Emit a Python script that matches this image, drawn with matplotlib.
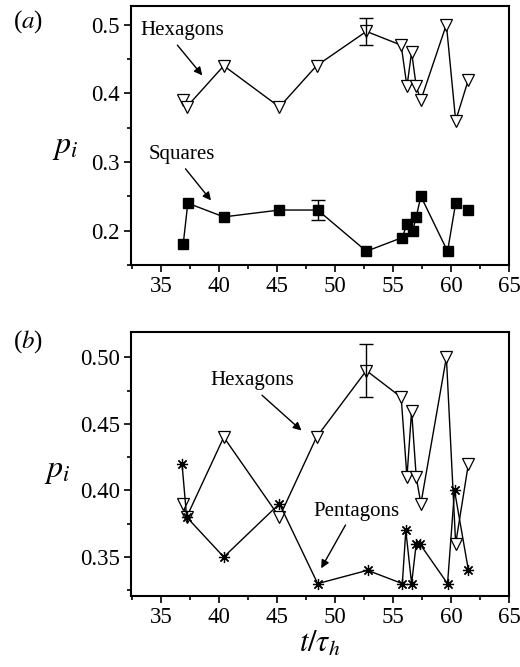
import numpy as np
import matplotlib
matplotlib.use('Agg')
import matplotlib.pyplot as plt
import matplotlib.ticker as ticker

plt.rcParams['font.family'] = ['Liberation Serif', 'DejaVu Serif']
plt.rcParams['mathtext.fontset'] = 'stix'

# time points t/tau_h
t_hex = [36.9, 37.2, 40.4, 45.2, 48.4, 52.7, 55.7, 56.2, 56.6, 57.0, 57.4, 59.6, 60.4, 61.5]
p_hex = [0.39, 0.38, 0.44, 0.38, 0.44, 0.49, 0.47, 0.41, 0.46, 0.41, 0.39, 0.50, 0.36, 0.42]
err_hex_t = 52.7
err_hex_p = 0.49
err_hex = 0.02

t_sq = [36.9, 37.3, 40.4, 45.2, 48.5, 52.7, 55.8, 56.2, 56.7, 57.0, 57.4, 59.7, 60.4, 61.5]
p_sq = [0.18, 0.24, 0.22, 0.23, 0.23, 0.17, 0.19, 0.21, 0.20, 0.22, 0.25, 0.17, 0.24, 0.23]
err_sq_t = 48.5
err_sq_p = 0.23
err_sq = 0.015

t_pent = [36.8, 37.2, 40.4, 45.2, 48.5, 52.8, 55.8, 56.1, 56.6, 57.0, 57.3, 59.7, 60.3, 61.5]
p_pent = [0.42, 0.38, 0.35, 0.39, 0.33, 0.34, 0.33, 0.37, 0.33, 0.36, 0.36, 0.33, 0.40, 0.34]

fig = plt.figure(figsize=(5.2, 6.67), dpi=100)
ax1 = fig.add_axes([131/520, 1-265/667, 378/520, 259/667])
ax2 = fig.add_axes([131/520, 1-596/667, 378/520, 264/667])

def style(ax):
    ax.set_xlim(32.4, 65)
    ax.xaxis.set_major_locator(ticker.MultipleLocator(5))
    ax.xaxis.set_minor_locator(ticker.MultipleLocator(2.5))
    ax.tick_params(which='major', direction='out', length=5, width=1.2, labelsize=16.5, pad=3)
    ax.tick_params(which='minor', direction='out', length=3, width=1.2)
    for s in ax.spines.values():
        s.set_linewidth(1.5)

tri = dict(marker='v', ms=9, mfc='white', mec='black', mew=0.9, color='black', lw=1)

# panel (a)
ax1.plot(t_hex, p_hex, **tri)
ax1.errorbar([err_hex_t], [err_hex_p], yerr=[err_hex], fmt='none', ecolor='black', elinewidth=1, capsize=5)
ax1.plot(t_sq[:-1], p_sq[:-1], color='black', lw=1)
ax1.plot(t_sq, p_sq, ls='none', marker='s', ms=6.5, color='black')
ax1.errorbar([err_sq_t], [err_sq_p], yerr=[err_sq], fmt='none', ecolor='black', elinewidth=1, capsize=5)
style(ax1)
ax1.set_ylim(0.15, 0.527)
ax1.yaxis.set_major_locator(ticker.MultipleLocator(0.1))
ax1.yaxis.set_minor_locator(ticker.MultipleLocator(0.05))
ax1.yaxis.set_major_formatter(ticker.FormatStrFormatter('%.1f'))

arr = dict(arrowstyle='-|>', color='black', lw=1, mutation_scale=12, shrinkA=0, shrinkB=0)
ax1.text(36.8, 0.492, 'Hexagons', fontsize=15, ha='center', va='center')
ax1.annotate('', xy=(38.55, 0.426), xytext=(36.4, 0.470), arrowprops=arr)
ax1.text(36.8, 0.311, 'Squares', fontsize=15, ha='center', va='center')
ax1.annotate('', xy=(39.3, 0.244), xytext=(37.1, 0.290), arrowprops=arr)

fig.text(13/520, 1-22/667, '($a$)', fontsize=18, ha='left', va='center')
fig.text(65/520, 1-147/667, '$p_i$', fontsize=23, ha='center', va='center')

# panel (b)
ax2.plot(t_hex, p_hex, **tri)
ax2.errorbar([err_hex_t], [err_hex_p], yerr=[err_hex], fmt='none', ecolor='black', elinewidth=1, capsize=5)
ax2.plot(t_pent, p_pent, color='black', lw=1, marker=(8, 2, 0), ms=8, mew=0.9)
style(ax2)
ax2.set_ylim(0.3207, 0.519)
ax2.yaxis.set_major_locator(ticker.MultipleLocator(0.05))
ax2.yaxis.set_minor_locator(ticker.MultipleLocator(0.025))
ax2.yaxis.set_major_formatter(ticker.FormatStrFormatter('%.2f'))

ax2.text(42.9, 0.4827, 'Hexagons', fontsize=15, ha='center', va='center')
ax2.annotate('', xy=(47.1, 0.445), xytext=(43.7, 0.4715), arrowprops=arr)
ax2.text(51.8, 0.384, 'Pentagons', fontsize=15, ha='center', va='center')
ax2.annotate('', xy=(48.8, 0.3415), xytext=(50.9, 0.374), arrowprops=arr)
ax2.set_xlabel(r'$t/\tau_h$', fontsize=22, labelpad=1)

fig.text(13/520, 1-342/667, '($b$)', fontsize=18, ha='left', va='center')
fig.text(57/520, 1-472/667, '$p_i$', fontsize=23, ha='center', va='center')

fig.savefig('out.png', dpi=100)
